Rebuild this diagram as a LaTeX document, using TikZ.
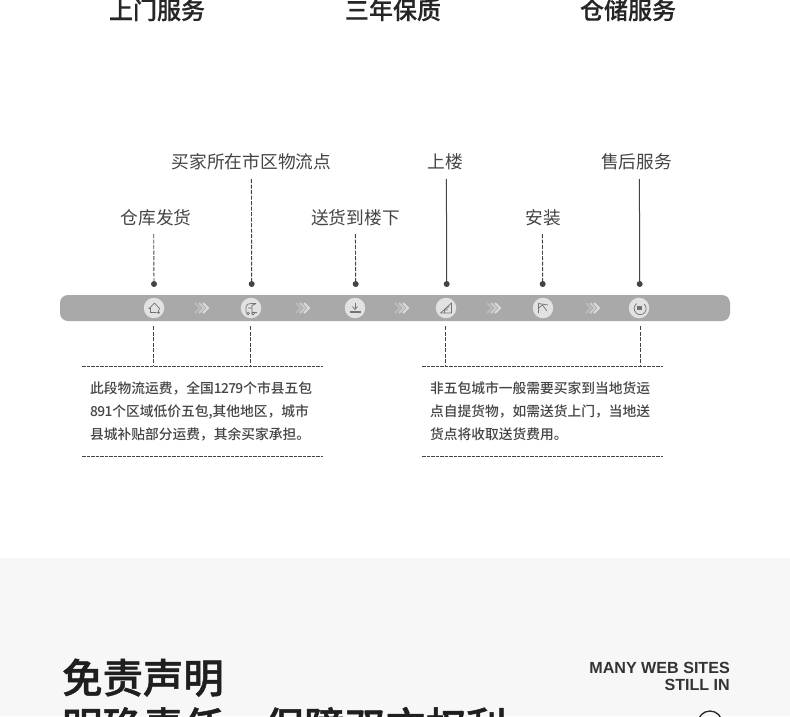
\documentclass[tikz,border=0pt]{standalone}
\usepackage{fontspec}
\setmainfont{Noto Sans CJK SC}
\newfontfamily\latinbold{Liberation Sans}
\newfontfamily\cjkmedium{Noto Sans CJK SC Medium}
\newfontfamily\cjkheavy[FakeBold=1.2]{Noto Sans CJK SC Medium}
\newfontfamily\cjkhead[FakeBold=0.5]{Noto Sans CJK SC Medium}
\newfontfamily\digitfont[LetterSpace=-5]{Noto Sans CJK SC Medium}
\usetikzlibrary{positioning,arrows.meta,calc}

\definecolor{barcol}{HTML}{A9A9A9}
\definecolor{badgecol}{HTML}{E2E2E2}
\definecolor{inkcol}{HTML}{444444}
\definecolor{panelcol}{HTML}{F7F7F7}

\begin{document}
\begin{tikzpicture}[
    x=1pt,y=-1pt,
    head/.style={font=\cjkhead\fontsize{24}{24}\selectfont,text=black!85,inner sep=0pt},
    stage/.style={font=\fontsize{17.7}{18}\selectfont,text=inkcol,inner sep=0pt},
    note/.style={font=\cjkmedium\fontsize{13.75}{23}\selectfont,text=inkcol,inner sep=0pt,align=left,anchor=north west},
    title/.style={font=\cjkheavy\fontsize{40.4}{41}\selectfont,text=black!88,inner sep=0pt,anchor=north west},
    pin/.style={circle,fill=inkcol,inner sep=0pt,minimum size=6pt},
    badge/.style={circle,fill=badgecol,inner sep=0pt,minimum size=20.5pt},
    leader/.style={draw=inkcol,dash pattern=on 4pt off 1.5pt,line width=0.9pt},
    solidleader/.style={draw=inkcol,line width=1pt},
    rule/.style={draw=inkcol,dash pattern=on 3.5pt off 1pt,line width=0.7pt},
    glyph/.style={draw=black!55,line width=0.7pt}
]
    \useasboundingbox (0,0) rectangle (790,716);
    \clip (0,0) rectangle (790,716);
    \fill[white] (0,0) rectangle (790,716);
    \fill[panelcol] (0,558) rectangle (790,716);

    % Top headings
    \node[head] (door) at (157,10) {上门服务};
    \node[head] (warranty) at (393,10) {三年保质};
    \node[head] (storage) at (628,10) {仓储服务};

    % Bar
    \fill[barcol,rounded corners=8pt] (60,295) rectangle (730,321);

    % Badges
    \node[badge] (houseicon) at (154,308) {};
    \node[badge] (truckicon) at (251,308) {};
    \node[badge] (downicon) at (355,308) {};
    \node[badge] (stairicon) at (446,308) {};
    \node[badge] (installicon) at (543,308) {};
    \node[badge] (serviceicon) at (639,308) {};

    % Stage labels
    \node[stage] (warehouse) at (156,218) {仓库发货};
    \node[stage] (buyer) at (251.5,162) {买家所在市区物流点};
    \node[stage] (deliver) at (355.5,218) {送货到楼下};
    \node[stage] (upstairs) at (445.5,162) {上楼};
    \node[stage] (install) at (543,218) {安装};
    \node[stage] (aftersale) at (636.5,162) {售后服务};

    % Pins
    \node[pin] (pina) at (154,284) {};
    \node[pin] (pinb) at (251.7,284) {};
    \node[pin] (pinc) at (355.7,284) {};
    \node[pin] (pind) at (446.7,284) {};
    \node[pin] (pine) at (542.7,284) {};
    \node[pin] (pinf) at (639.7,284) {};

    % Upper leaders
    \coordinate (topa) at (153.7,234);
    \coordinate (topb) at (251.4,179);
    \coordinate (topc) at (355.4,234);
    \coordinate (topd) at (446.4,179);
    \coordinate (tope) at (542.4,234);
    \coordinate (topf) at (639.4,179);
    \draw[leader] (topa) -- (pina);
    \draw[leader] (topb) -- (pinb);
    \draw[leader] (topc) -- (pinc);
    \draw[solidleader] (topd) -- (pind);
    \draw[leader] (tope) -- (pine);
    \draw[solidleader] (topf) -- (pinf);

    % Note frames
    \coordinate (ruleal) at (82,366);
    \coordinate (rulear) at (323,366);
    \coordinate (rulebl) at (82,456);
    \coordinate (rulebr) at (323,456);
    \coordinate (rulecl) at (422,366);
    \coordinate (rulecr) at (663,366);
    \coordinate (ruledl) at (422,456);
    \coordinate (ruledr) at (663,456);
    \draw[rule] (ruleal) -- (rulear);
    \draw[rule] (rulebl) -- (rulebr);
    \draw[rule] (rulecl) -- (rulecr);
    \draw[rule] (ruledl) -- (ruledr);

    % Lower leaders
    \coordinate (lowa) at (153.5,326);
    \coordinate (lowb) at (250.5,326);
    \coordinate (lowc) at (445.5,326);
    \coordinate (lowd) at (640.5,326);
    \draw[leader] (lowa) -- (lowa |- ruleal);
    \draw[leader] (lowb) -- (lowb |- ruleal);
    \draw[leader] (lowc) -- (lowc |- rulecl);
    \draw[leader] (lowd) -- (lowd |- rulecl);

    % Notes
    \node[note] (notea) at (90,381.5) {此段物流运费，全国{\digitfont 1279}个市县五包\\{\digitfont 891}个区域低价五包,其他地区，城市\\县城补贴部分运费，其余买家承担。};
    \node[note] (noteb) at (430,381.5) {非五包城市一般需要买家到当地货运\\点自提货物，如需送货上门，当地送\\货点将收取送货费用。};

    % Chevrons
    \foreach \cx in {202.5,303.5,402.5,494.5,593.5}{
        \draw[line width=1.8pt,draw=white,opacity=.2] (\cx-7.5,303) -- (\cx-2.5,308) -- (\cx-7.5,313);
        \draw[line width=1.8pt,draw=white,opacity=.4] (\cx-3.5,303) -- (\cx+1.5,308) -- (\cx-3.5,313);
        \draw[line width=1.8pt,draw=white,opacity=.6] (\cx+.5,303) -- (\cx+5.5,308) -- (\cx+.5,313);
    }

    % Icons
    \draw[glyph] (158.5,311) -- (159.5,308.5) -- (154.5,303) -- (149,308.5) -- (150.5,308.5) -- (150.5,312.5) -- (156.5,312.5);
    \draw[glyph] (158.5,312.5) circle (0.8);
    \draw[glyph] (246,312.5) -- (246,307) .. controls (246,304.5) and (248,303.5) .. (251,303.5) -- (256,303.5) (256,303.5) -- (252,305.5) -- (252,312.5) -- (257,312.5) (248,308) -- (252,308);
    \draw[glyph] (248,313.5) circle (1.4) (253,313.5) circle (1.4);
    \draw[glyph,line width=1pt] (355,303) -- (355,309);
    \draw[glyph] (352.5,306.5) -- (355,309.5) -- (357.5,306.5);
    \draw[glyph,line width=1.2pt] (349.5,312) -- (360.5,312);
    \draw[glyph] (440.5,313) -- (451.5,303) -- (451.5,313) -- cycle (444.5,313) -- (444.5,310) -- (447,310) -- (447,307) -- (449.5,307);
    \draw[glyph] (538.5,313) -- (538.5,303.5) -- (548,305) (538.5,308) -- (542.5,305) -- (547,311);
    \draw[glyph] (644,304) arc (-50:235:6) ;
    \fill[black!55] (637,306) rectangle (641.5,310);

    % Disclaimer
    \node[title] (disclaimer) at (62,658.5) {免责声明};
    \node[title,below=10pt of disclaimer.south west,anchor=north west] (duty) {明确责任，保障双方权利};
    \node[font=\latinbold\fontsize{16.1}{17}\selectfont\bfseries,text=black!80,inner sep=0pt,align=right,anchor=north east] (sites) at (730,662.5) {MANY WEB SITES\\STILL IN};
    \node[circle,draw=black!85,line width=1.3pt,inner sep=0pt,minimum size=24pt] (roundmark) at (710,723) {};
\end{tikzpicture}
\end{document}
